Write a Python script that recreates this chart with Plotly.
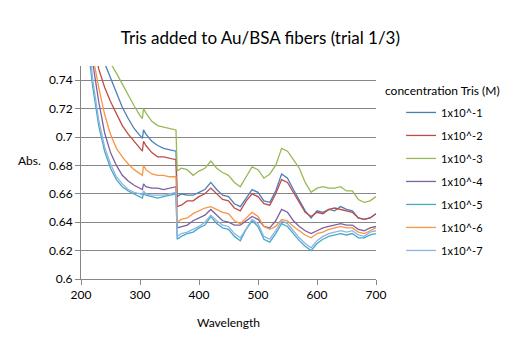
import plotly.graph_objects as go

wavelength = [200, 210, 220, 230, 240, 250, 260, 270, 280, 290, 300, 304, 306, 310, 320, 330, 340, 350, 361, 363,
              370, 380, 390, 400, 410, 420, 430, 440, 450, 460, 470, 480, 490, 500, 510, 520, 530, 540, 550, 560,
              570, 580, 590, 600, 610, 620, 630, 640, 650, 660, 670, 680, 690, 700]

tris_1e1 = [0.850, 0.820, 0.790, 0.765, 0.752, 0.742, 0.732, 0.721, 0.713, 0.706, 0.701, 0.699, 0.705, 0.702, 0.697, 0.694, 0.692, 0.691, 0.690, 0.658,
            0.660, 0.659, 0.659, 0.661, 0.663, 0.668, 0.663, 0.659, 0.658, 0.653, 0.651, 0.657, 0.663, 0.661, 0.655, 0.654, 0.662, 0.674, 0.671, 0.663,
            0.655, 0.648, 0.643, 0.648, 0.647, 0.649, 0.648, 0.651, 0.649, 0.648, 0.643, 0.642, 0.643, 0.646]
tris_1e2 = [0.840, 0.800, 0.770, 0.748, 0.735, 0.725, 0.716, 0.708, 0.702, 0.697, 0.692, 0.690, 0.697, 0.694, 0.689, 0.686, 0.686, 0.685, 0.684, 0.651,
            0.652, 0.655, 0.655, 0.658, 0.660, 0.664, 0.660, 0.656, 0.655, 0.650, 0.648, 0.655, 0.660, 0.658, 0.653, 0.652, 0.660, 0.670, 0.668, 0.661,
            0.653, 0.647, 0.644, 0.647, 0.646, 0.649, 0.650, 0.649, 0.648, 0.647, 0.643, 0.642, 0.643, 0.646]
tris_1e3 = [0.950, 0.900, 0.850, 0.810, 0.775, 0.752, 0.745, 0.737, 0.729, 0.722, 0.715, 0.713, 0.720, 0.717, 0.711, 0.708, 0.707, 0.706, 0.705, 0.676,
            0.678, 0.677, 0.673, 0.676, 0.678, 0.683, 0.678, 0.675, 0.673, 0.668, 0.665, 0.672, 0.679, 0.677, 0.671, 0.674, 0.680, 0.692, 0.690, 0.684,
            0.678, 0.668, 0.661, 0.664, 0.665, 0.664, 0.664, 0.665, 0.662, 0.662, 0.656, 0.654, 0.655, 0.658]
tris_1e4 = [0.850, 0.800, 0.752, 0.725, 0.703, 0.689, 0.680, 0.673, 0.669, 0.666, 0.664, 0.663, 0.667, 0.665, 0.664, 0.664, 0.663, 0.664, 0.665, 0.636,
            0.637, 0.638, 0.641, 0.643, 0.645, 0.649, 0.645, 0.641, 0.640, 0.638, 0.638, 0.641, 0.644, 0.642, 0.637, 0.636, 0.641, 0.649, 0.647, 0.641,
            0.637, 0.634, 0.632, 0.634, 0.636, 0.637, 0.638, 0.639, 0.638, 0.638, 0.635, 0.634, 0.636, 0.637]
tris_1e5 = [0.840, 0.770, 0.735, 0.708, 0.690, 0.678, 0.670, 0.665, 0.662, 0.660, 0.658, 0.657, 0.660, 0.659, 0.658, 0.657, 0.658, 0.659, 0.660, 0.628,
            0.630, 0.632, 0.633, 0.636, 0.638, 0.644, 0.639, 0.636, 0.635, 0.630, 0.627, 0.635, 0.641, 0.637, 0.628, 0.626, 0.632, 0.639, 0.637, 0.632,
            0.627, 0.623, 0.620, 0.625, 0.628, 0.630, 0.631, 0.632, 0.631, 0.632, 0.629, 0.629, 0.631, 0.632]
tris_1e6 = [0.850, 0.800, 0.757, 0.735, 0.716, 0.702, 0.692, 0.686, 0.681, 0.677, 0.674, 0.673, 0.680, 0.677, 0.674, 0.673, 0.673, 0.672, 0.672, 0.640,
            0.642, 0.643, 0.646, 0.648, 0.650, 0.651, 0.649, 0.647, 0.646, 0.641, 0.639, 0.643, 0.647, 0.644, 0.637, 0.635, 0.637, 0.642, 0.641, 0.637,
            0.634, 0.631, 0.629, 0.632, 0.633, 0.635, 0.636, 0.637, 0.636, 0.636, 0.633, 0.632, 0.634, 0.636]
tris_1e7 = [0.850, 0.780, 0.740, 0.712, 0.693, 0.681, 0.672, 0.667, 0.663, 0.661, 0.660, 0.659, 0.662, 0.660, 0.659, 0.659, 0.659, 0.660, 0.661, 0.630,
            0.632, 0.633, 0.635, 0.637, 0.640, 0.645, 0.641, 0.638, 0.637, 0.632, 0.629, 0.636, 0.642, 0.639, 0.630, 0.628, 0.634, 0.641, 0.639, 0.634,
            0.629, 0.625, 0.622, 0.627, 0.630, 0.632, 0.633, 0.634, 0.633, 0.634, 0.631, 0.630, 0.633, 0.634]

series_names = ["1x10^-1", "1x10^-2", "1x10^-3", "1x10^-4", "1x10^-5", "1x10^-6", "1x10^-7"]
series_values = [tris_1e1, tris_1e2, tris_1e3, tris_1e4, tris_1e5, tris_1e6, tris_1e7]
colors = ["#4A7EBB", "#BE4B48", "#98B954", "#7D60A0", "#46AAC5", "#F79646", "#8EB4E3"]

FONT = "Lato"

fig = go.Figure()
for i, (name, vals) in enumerate(zip(series_names, series_values)):
    fig.add_trace(go.Scatter(
        x=wavelength, y=vals, mode="lines", name=name,
        legendgroup=name,
        line=dict(color=colors[i], width=1.3),
    ))

fig.update_layout(
    width=524, height=344,
    margin=dict(l=81, r=148, t=66, b=65),
    paper_bgcolor="white", plot_bgcolor="white",
    font=dict(family=FONT, size=12, color="#000000"),
    title=dict(text="Tris added to Au/BSA fibers (trial 1/3)", x=0.497, xanchor="center",
               y=1 - 38 / 344, yanchor="middle", font=dict(size=17, family=FONT)),
    showlegend=True,
    legend=dict(x=1.085, xanchor="left", y=0.85, yanchor="top",
                font=dict(size=11, family=FONT), tracegroupgap=4,
                bgcolor="rgba(0,0,0,0)", itemwidth=30),
    xaxis=dict(range=[200, 700], dtick=100, tick0=200, showgrid=False,
               showline=True, linecolor="#868686", linewidth=1,
               ticks="outside", ticklen=5, tickcolor="#868686",
               tickfont=dict(size=12), zeroline=False,
               title=dict(text="Wavelength", font=dict(size=12), standoff=17)),
    yaxis=dict(range=[0.6, 0.75], dtick=0.02, tick0=0.6, showgrid=True,
               gridcolor="#868686", gridwidth=1, tickformat="",
               showline=True, linecolor="#868686", linewidth=1,
               ticks="outside", ticklen=5, tickcolor="#868686",
               tickfont=dict(size=12), zeroline=False),
    annotations=[
        dict(text="Abs.", xref="paper", yref="paper",
             x=(29 - 81) / 295, xanchor="center", y=(279 - 160) / 213, yanchor="middle",
             showarrow=False, font=dict(size=12)),
        dict(text="concentration Tris (M)", xref="paper", yref="paper",
             x=(383 - 81) / 295, xanchor="left", y=(279 - 90) / 213, yanchor="middle",
             showarrow=False, font=dict(size=12)),
    ],
)

fig.write_html("out.html")
